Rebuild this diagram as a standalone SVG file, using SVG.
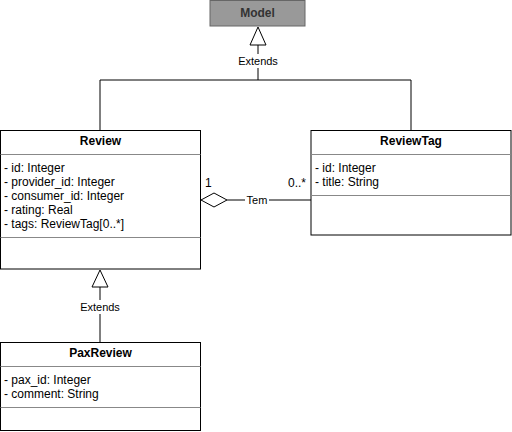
<svg xmlns="http://www.w3.org/2000/svg" width="512" height="432" viewBox="0 0 512 432">
<style>
.box{fill:#fff;stroke:#000;stroke-width:1}
.div{stroke:#000;stroke-width:1}
.t{font-family:"Liberation Sans",Arial,sans-serif;font-size:12px;fill:#000}
.h{font-weight:bold;text-anchor:middle}
.lbl{font-family:"Liberation Sans",Arial,sans-serif;font-size:11px;fill:#000;text-anchor:middle}
.edge{fill:none;stroke:#000;stroke-width:1}
</style>
<rect width="512" height="432" fill="#fff"/>
<g id="connectors">
  <polyline class="edge" points="258,45 258,80 100,80 100,130"/>
  <polyline class="edge" points="258,80 411,80 411,130"/>
  <polygon points="258,27 250,45 266,45" fill="#fff" stroke="#000"/>
  <rect x="235" y="54" width="46" height="14" fill="#fff"/>
  <text class="lbl" x="258" y="65">Extends</text>
  <line class="edge" x1="100" y1="287" x2="100" y2="342"/>
  <polygon points="100,270 92,287 108,287" fill="#fff" stroke="#000"/>
  <rect x="77" y="300" width="46" height="14" fill="#fff"/>
  <text class="lbl" x="100" y="311">Extends</text>
  <line class="edge" x1="227" y1="200" x2="311" y2="200"/>
  <polygon points="201,200 214,193 227,200 214,207" fill="#fff" stroke="#000"/>
  <rect x="245" y="193" width="24" height="14" fill="#fff"/>
  <text class="lbl" x="257" y="204">Tem</text>
  <text class="t" x="205" y="187">1</text>
  <text class="t" x="306" y="187" text-anchor="end">0..*</text>
</g>
<g id="model">
  <rect x="210" y="0.5" width="95" height="25.5" fill="#999" stroke="#666"/>
  <text class="t h" x="257.5" y="17" fill="#333" style="fill:#333">Model</text>
</g>
<g id="review">
  <rect class="box" x="0.5" y="130.5" width="200" height="138.5"/>
  <line class="div" x1="0.5" y1="154.5" x2="200.5" y2="154.5" stroke="#888" style="stroke:#888"/>
  <line class="div" x1="0.5" y1="237.5" x2="200.5" y2="237.5" style="stroke:#888"/>
  <text class="t h" x="100.5" y="145">Review</text>
  <text class="t" x="4" y="172">- id: Integer</text>
  <text class="t" x="4" y="186">- provider_id: Integer</text>
  <text class="t" x="4" y="200">- consumer_id: Integer</text>
  <text class="t" x="4" y="214">- rating: Real</text>
  <text class="t" x="4" y="228">- tags: ReviewTag[0..*]</text>
</g>
<g id="reviewtag">
  <rect class="box" x="311" y="130.5" width="200" height="104.5"/>
  <line class="div" x1="311" y1="154.5" x2="511" y2="154.5" style="stroke:#888"/>
  <line class="div" x1="311" y1="195.5" x2="511" y2="195.5" style="stroke:#888"/>
  <text class="t h" x="411" y="145">ReviewTag</text>
  <text class="t" x="315" y="172">- id: Integer</text>
  <text class="t" x="315" y="186">- title: String</text>
</g>
<g id="paxreview">
  <rect class="box" x="0.5" y="342.5" width="200" height="88"/>
  <line class="div" x1="0.5" y1="366.5" x2="200.5" y2="366.5" style="stroke:#888"/>
  <line class="div" x1="0.5" y1="407.5" x2="200.5" y2="407.5" style="stroke:#888"/>
  <text class="t h" x="100.5" y="357">PaxReview</text>
  <text class="t" x="4" y="384">- pax_id: Integer</text>
  <text class="t" x="4" y="398">- comment: String</text>
</g>
</svg>
